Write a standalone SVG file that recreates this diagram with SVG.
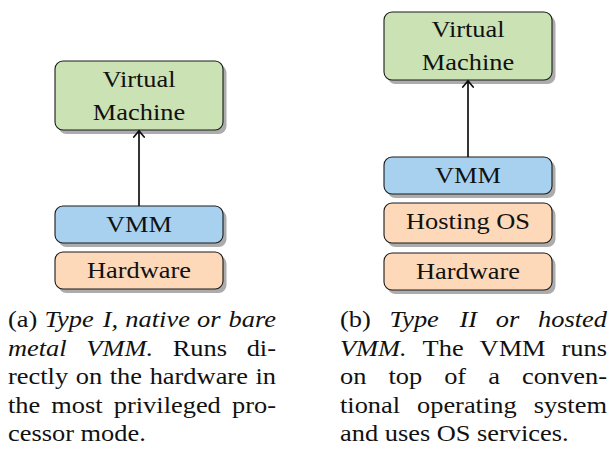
<svg xmlns="http://www.w3.org/2000/svg" width="608" height="449" viewBox="0 0 608 449">
  <style>
    .box { stroke: #1a1a1a; stroke-width: 1.1; }
    .vm { fill: #cbe2b5; }
    .vmm { fill: #a8d1f0; }
    .hw { fill: #fdd9b9; }
    .drop { fill: #acacac; stroke: none; }
    .lbl { font-family: "Liberation Serif", "Times New Roman", serif; font-size: 24px; fill: #111; text-anchor: middle; }
    .cap { font-family: "Liberation Serif", "Times New Roman", serif; font-size: 24px; fill: #111; }
    .it { font-style: italic; }
    .end { text-anchor: end; }
    .link { stroke: #111; stroke-width: 1.7; fill: none; }
    .head { stroke: #111; stroke-width: 1.7; fill: none; stroke-linecap: round; }
  </style>

  <!-- (a) native stack; each node carries its own offset drop copy -->
  <g id="a-vm">
    <path class="drop" d="M66.5,65 H218.5 A8,8 0 0 1 226.5,73 V126 A8,8 0 0 1 218.5,134 H66.5 A8,8 0 0 1 58.5,126 V73 A8,8 0 0 1 66.5,65 Z"/>
    <rect class="box vm" x="55" y="61" width="168" height="69" rx="8"/>
    <text class="lbl" transform="translate(139 0) scale(1.1 1)" x="0" y="87.5">Virtual</text>
    <text class="lbl" transform="translate(139 0) scale(1.1 1)" x="0" y="120">Machine</text>
  </g>
  <g id="a-vmm">
    <path class="drop" d="M66.5,210 H218.5 A8,8 0 0 1 226.5,218 V239 A8,8 0 0 1 218.5,247 H66.5 A8,8 0 0 1 58.5,239 V218 A8,8 0 0 1 66.5,210 Z"/>
    <rect class="box vmm" x="55" y="206" width="168" height="37" rx="8"/>
    <text class="lbl" transform="translate(139 0) scale(1.1 1)" x="0" y="232">VMM</text>
  </g>
  <g id="a-hw">
    <path class="drop" d="M66.5,256 H218.5 A8,8 0 0 1 226.5,264 V285 A8,8 0 0 1 218.5,293 H66.5 A8,8 0 0 1 58.5,285 V264 A8,8 0 0 1 66.5,256 Z"/>
    <rect class="box hw" x="55" y="252" width="168" height="37" rx="8"/>
    <text class="lbl" transform="translate(139 0) scale(1.1 1)" x="0" y="278">Hardware</text>
  </g>

  <!-- (b) hosted stack -->
  <g id="b-vm">
    <path class="drop" d="M395.5,16 H547.5 A8,8 0 0 1 555.5,24 V76 A8,8 0 0 1 547.5,84 H395.5 A8,8 0 0 1 387.5,76 V24 A8,8 0 0 1 395.5,16 Z"/>
    <rect class="box vm" x="384" y="12" width="168" height="68" rx="8"/>
    <text class="lbl" transform="translate(468 0) scale(1.1 1)" x="0" y="37.5">Virtual</text>
    <text class="lbl" transform="translate(468 0) scale(1.1 1)" x="0" y="70.5">Machine</text>
  </g>
  <g id="b-vmm">
    <path class="drop" d="M395.5,161 H547.5 A8,8 0 0 1 555.5,169 V190 A8,8 0 0 1 547.5,198 H395.5 A8,8 0 0 1 387.5,190 V169 A8,8 0 0 1 395.5,161 Z"/>
    <rect class="box vmm" x="384" y="157" width="168" height="37" rx="8"/>
    <text class="lbl" transform="translate(468 0) scale(1.1 1)" x="0" y="183">VMM</text>
  </g>
  <g id="b-os">
    <path class="drop" d="M395.5,207 H547.5 A8,8 0 0 1 555.5,215 V239 A8,8 0 0 1 547.5,247 H395.5 A8,8 0 0 1 387.5,239 V215 A8,8 0 0 1 395.5,207 Z"/>
    <rect class="box hw" x="384" y="203" width="168" height="40" rx="8"/>
    <text class="lbl" transform="translate(468 0) scale(1.1 1)" x="0" y="229">Hosting OS</text>
  </g>
  <g id="b-hw">
    <path class="drop" d="M395.5,257 H547.5 A8,8 0 0 1 555.5,265 V286 A8,8 0 0 1 547.5,294 H395.5 A8,8 0 0 1 387.5,286 V265 A8,8 0 0 1 395.5,257 Z"/>
    <rect class="box hw" x="384" y="253" width="168" height="37" rx="8"/>
    <text class="lbl" transform="translate(468 0) scale(1.1 1)" x="0" y="279">Hardware</text>
  </g>

  <!-- connectors: straight uplinks with open arrow tips -->
  <g id="connectors">
    <line class="link" x1="139" y1="206" x2="139" y2="131"/>
    <path class="head" d="M133.8,137 Q137.5,132.8 139,130.8 Q140.5,132.8 144.2,137"/>
    <line class="link" x1="468" y1="157" x2="468" y2="81"/>
    <path class="head" d="M462.8,87 Q466.5,82.8 468,80.8 Q469.5,82.8 473.2,87"/>
  </g>

  <!-- caption (a), justified -->
  <g id="caption-a" transform="translate(8 0) scale(1.1 1)">
    <text class="cap" y="327">
      <tspan x="0">(a)</tspan>
      <tspan class="it" x="33.1">Type</tspan>
      <tspan class="it" x="86.2">I,</tspan>
      <tspan class="it" x="106.7">native</tspan>
      <tspan class="it" x="171.8">or</tspan>
    </text>
    <text class="cap it end" x="243.6" y="327">bare</text>
    <text class="cap" y="356">
      <tspan class="it" x="0">metal</tspan>
      <tspan class="it" x="71.2">VMM.</tspan>
      <tspan x="149.8">Runs</tspan>
    </text>
    <text class="cap end" x="243.6" y="356">di-</text>
    <text class="cap" y="384.5">
      <tspan x="0">rectly</tspan>
      <tspan x="61.6">on</tspan>
      <tspan x="92.5">the</tspan>
      <tspan x="128.8">hardware</tspan>
    </text>
    <text class="cap end" x="243.6" y="384.5">in</text>
    <text class="cap" y="413">
      <tspan x="0">the</tspan>
      <tspan x="39.4">most</tspan>
      <tspan x="96.2">privileged</tspan>
    </text>
    <text class="cap end" x="243.6" y="413">pro-</text>
    <text class="cap" x="0" y="441.5">cessor mode.</text>
  </g>

  <!-- caption (b), justified -->
  <g id="caption-b" transform="translate(340 0) scale(1.1 1)">
    <text class="cap" y="327">
      <tspan x="0">(b)</tspan>
      <tspan class="it" x="45.0">Type</tspan>
      <tspan class="it" x="108.7">II</tspan>
      <tspan class="it" x="141.7">or</tspan>
    </text>
    <text class="cap it end" x="242.7" y="327">hosted</text>
    <text class="cap" y="356">
      <tspan class="it" x="0">VMM.</tspan>
      <tspan x="75.1">The</tspan>
      <tspan x="126.9">VMM</tspan>
    </text>
    <text class="cap end" x="242.7" y="356">runs</text>
    <text class="cap" y="384.5">
      <tspan x="0">on</tspan>
      <tspan x="44.0">top</tspan>
      <tspan x="94.7">of</tspan>
      <tspan x="134.8">a</tspan>
    </text>
    <text class="cap end" x="242.7" y="384.5">conven-</text>
    <text class="cap" y="413">
      <tspan x="0">tional</tspan>
      <tspan x="70.0">operating</tspan>
    </text>
    <text class="cap end" x="242.7" y="413">system</text>
    <text class="cap" x="0" y="441.5">and uses OS services.</text>
  </g>
</svg>
